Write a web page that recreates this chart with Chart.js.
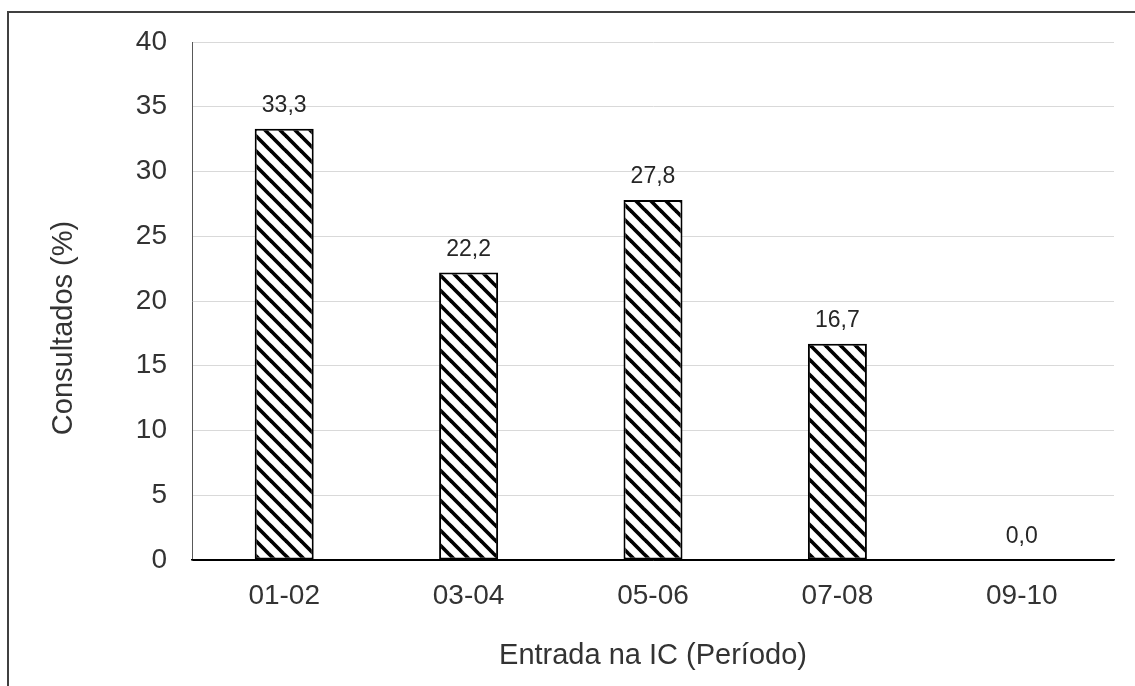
<!DOCTYPE html>
<html>
<head>
<meta charset="utf-8">
<script src="https://cdn.jsdelivr.net/npm/chart.js@4/dist/chart.umd.min.js"></script>
<style>
  html, body { margin: 0; padding: 0; background: #fff; overflow: hidden; }
  #wrap { position: relative; width: 1135px; height: 686px; }
  #frame { position: absolute; left: 7px; top: 11px; width: 1200px; height: 800px;
           border-left: 2px solid #404040; border-top: 2px solid #404040; }
  canvas { position: absolute; left: 0; top: 0; }
</style>
</head>
<body>
<div id="wrap">
  <div id="frame"></div>
  <canvas id="chart" width="1135" height="686"></canvas>
</div>
<script>
const periods = ["01-02", "03-04", "05-06", "07-08", "09-10"];
const consultados = [33.3, 22.2, 27.8, 16.7, 0.0];
const yTitle = "Consultados (%)";
const xTitle = "Entrada na IC (Período)";

const FONT = "'Liberation Sans', Arial, sans-serif";

// hachurado diagonal das barras
function makeHatch() {
  const size = 15;
  const c = document.createElement("canvas");
  c.width = size; c.height = size;
  const g = c.getContext("2d");
  g.fillStyle = "#fff";
  g.fillRect(0, 0, size, size);
  g.strokeStyle = "#000";
  g.lineWidth = 3.7;
  [-size, 0, size].forEach(o => {
    g.beginPath();
    g.moveTo(o - 2, -2);
    g.lineTo(o + size + 2, size + 2);
    g.stroke();
  });
  return g.createPattern(c, "repeat");
}

// rótulos de valor acima das barras + título do eixo Y (fora do centro da área)
const valueLabels = {
  id: "valueLabels",
  afterDatasetsDraw(chart) {
    const ctx = chart.ctx;
    const meta = chart.getDatasetMeta(0);
    ctx.save();
    ctx.font = "23px " + FONT;
    ctx.fillStyle = "#262626";
    ctx.textAlign = "center";
    ctx.textBaseline = "alphabetic";
    meta.data.forEach((bar, i) => {
      const v = chart.data.datasets[0].data[i];
      ctx.fillText(v.toFixed(1).replace(".", ","), bar.x, bar.y - 17);
    });
    ctx.restore();

    ctx.save();
    ctx.translate(64, 328);
    ctx.rotate(-Math.PI / 2);
    ctx.font = "29px " + FONT;
    ctx.fillStyle = "#333";
    ctx.textAlign = "center";
    ctx.textBaseline = "middle";
    ctx.fillText(yTitle, 0, 0);
    ctx.restore();
  }
};

new Chart(document.getElementById("chart"), {
  type: "bar",
  data: {
    labels: periods,
    datasets: [{
      data: consultados,
      backgroundColor: makeHatch(),
      borderColor: "#000",
      borderWidth: 2,
      borderSkipped: false,
      barPercentage: 0.32,
      categoryPercentage: 1
    }]
  },
  options: {
    responsive: false,
    animation: false,
    devicePixelRatio: 1,
    layout: { padding: { top: 42, right: 21, left: 0, bottom: 0 } },
    plugins: { legend: { display: false }, tooltip: { enabled: false } },
    scales: {
      y: {
        min: 0, max: 40,
        ticks: { stepSize: 5, padding: 25, color: "#333", font: { family: FONT, size: 28 } },
        grid: { color: c => c.tick && c.tick.value === 0 ? "#000" : "#d9d9d9", lineWidth: 1, drawTicks: false },
        border: { display: true, color: "#595959", width: 1 },
        afterFit: s => { s.width = 192; }
      },
      x: {
        ticks: { padding: 19, color: "#333", font: { family: FONT, size: 28 } },
        grid: { display: false, drawTicks: false },
        border: { display: true, color: "#000", width: 1.5 },
        title: { display: true, text: xTitle, color: "#333", font: { family: FONT, size: 29 }, padding: { top: 0, bottom: 13 } },
        afterFit: s => { s.height = 126; }
      }
    }
  },
  plugins: [valueLabels]
});
</script>
</body>
</html>
